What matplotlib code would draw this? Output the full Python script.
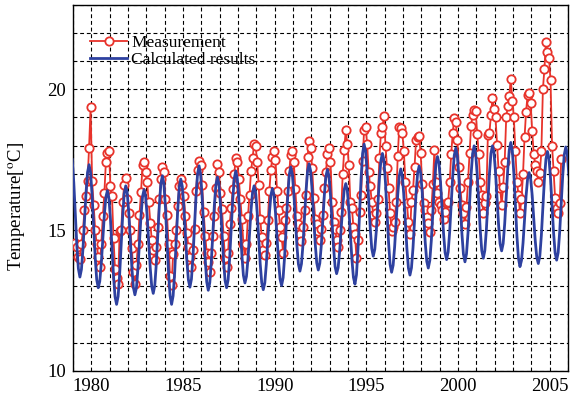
import numpy as np
import matplotlib
matplotlib.use("Agg")
import matplotlib.pyplot as plt
from matplotlib.ticker import MultipleLocator

# monthly mean temperature, measured (Jan 1979 - Aug 2005), one row per year
meas_start = 1979
measured = [
    14.50, 14.55, 14.40, 14.05, 13.98, 14.50, 15.00, 15.70, 16.20, 16.75, 17.93, 19.36,  # 1979
    16.73, 15.90, 15.00, 14.50, 14.05, 13.70, 14.50, 15.50, 16.30, 17.42, 17.75, 17.82,  # 1980
    16.55, 16.20, 14.70, 13.60, 13.30, 13.07, 14.95, 15.00, 16.00, 16.60, 16.85, 16.10,  # 1981
    15.60, 15.00, 14.35, 13.50, 13.10, 13.75, 14.50, 15.55, 16.35, 17.32, 17.40, 17.05,  # 1982
    16.70, 16.00, 15.25, 14.65, 14.30, 13.93, 14.40, 15.10, 16.10, 16.80, 17.25, 17.05,  # 1983
    16.10, 15.55, 14.50, 13.35, 13.05, 14.15, 14.50, 15.00, 15.85, 16.55, 16.80, 16.60,  # 1984
    16.20, 15.50, 14.90, 14.40, 14.05, 13.70, 14.30, 15.05, 16.40, 17.15, 17.45, 17.30,  # 1985
    16.60, 15.65, 14.80, 14.20, 13.85, 13.50, 14.20, 14.80, 15.50, 16.50, 17.35, 17.05,  # 1986
    16.30, 15.75, 14.80, 14.00, 13.70, 14.20, 15.20, 15.80, 16.45, 17.00, 17.55, 17.40,  # 1987
    16.80, 16.10, 15.40, 14.50, 14.00, 14.50, 15.50, 16.25, 17.10, 17.55, 18.05, 18.00,  # 1988
    17.40, 16.60, 15.40, 14.75, 14.30, 14.10, 14.55, 15.35, 16.40, 17.15, 17.60, 17.82,  # 1989
    17.50, 16.40, 15.70, 15.10, 14.75, 14.20, 15.35, 15.80, 16.40, 17.10, 17.65, 17.82,  # 1990
    17.40, 16.45, 15.50, 15.20, 14.85, 14.60, 15.10, 15.70, 16.25, 17.60, 18.15, 17.90,  # 1991
    17.20, 16.15, 15.40, 15.20, 14.95, 14.65, 15.05, 15.55, 16.50, 17.05, 17.70, 17.90,  # 1992
    17.40, 16.00, 15.30, 15.05, 14.65, 14.40, 15.00, 15.65, 17.00, 17.85, 18.57, 18.06,  # 1993
    17.30, 16.00, 15.80, 15.10, 14.85, 14.00, 14.65, 15.65, 16.25, 17.45, 18.57, 18.65,  # 1994
    18.06, 17.05, 16.55, 16.00, 15.55, 15.30, 15.60, 16.10, 17.55, 18.45, 18.65, 19.05,  # 1995
    18.00, 17.20, 16.50, 15.60, 14.95, 15.10, 15.30, 16.00, 17.64, 18.65, 18.62, 18.44,  # 1996
    17.82, 16.72, 15.95, 15.30, 14.85, 16.00, 16.42, 17.23, 18.20, 18.30, 18.35, 17.73,  # 1997
    16.64, 15.95, 15.70, 15.45, 15.24, 14.94, 15.71, 16.64, 17.86, 16.70, 16.30, 16.00,  # 1998
    15.90, 15.70, 15.40, 15.65, 15.95, 16.00, 16.70, 17.70, 18.45, 18.98, 18.85, 18.20,  # 1999
    17.23, 16.48, 15.90, 15.60, 15.20, 15.83, 16.72, 17.73, 18.70, 19.10, 19.28, 19.24,  # 2000
    18.42, 17.70, 16.72, 16.25, 15.60, 15.95, 16.20, 18.38, 18.45, 19.09, 19.69, 19.30,  # 2001
    19.00, 18.03, 17.11, 16.48, 15.89, 16.54, 17.43, 19.00, 19.40, 19.75, 20.38, 19.60,  # 2002
    19.00, 17.79, 16.72, 16.25, 15.62, 16.10, 16.99, 18.30, 19.21, 19.80, 19.88, 19.50,  # 2003
    18.50, 17.71, 17.30, 17.10, 16.72, 17.02, 17.79, 20.00, 20.72, 21.69, 21.31, 21.11,  # 2004
    20.32, 17.99, 17.11, 16.13, 15.77, 15.60, 15.95, 17.52,                              # 2005
]

# monthly calculated temperature (Dec 1978 - Jan 2006)
calc_start = 1978 + 11 / 12
calculated = [
    17.50,                                                                               # 1978
    16.68, 15.57, 14.45, 13.63, 13.33, 13.60, 14.33, 15.33, 16.32, 17.05, 17.32, 17.03,  # 1979
    16.23, 15.14, 14.04, 13.24, 12.95, 13.18, 13.81, 14.68, 15.54, 16.17, 16.40, 16.13,  # 1980
    15.39, 14.38, 13.37, 12.63, 12.36, 12.64, 13.41, 14.47, 15.52, 16.29, 16.57, 16.31,  # 1981
    15.60, 14.64, 13.67, 12.96, 12.70, 12.95, 13.64, 14.57, 15.51, 16.19, 16.44, 16.19,  # 1982
    15.52, 14.60, 13.67, 13.00, 12.75, 13.03, 13.80, 14.84, 15.89, 16.65, 16.93, 16.62,  # 1983
    15.79, 14.65, 13.50, 12.67, 12.36, 12.66, 13.47, 14.59, 15.70, 16.51, 16.81, 16.55,  # 1984
    15.85, 14.89, 13.93, 13.23, 12.97, 13.26, 14.05, 15.13, 16.20, 16.99, 17.28, 16.98,  # 1985
    16.18, 15.07, 13.97, 13.16, 12.86, 13.13, 13.87, 14.87, 15.88, 16.61, 16.88, 16.62,  # 1986
    15.90, 14.92, 13.93, 13.21, 12.95, 13.23, 13.99, 15.03, 16.06, 16.82, 17.10, 16.83,  # 1987
    16.11, 15.11, 14.12, 13.39, 13.12, 13.35, 13.98, 14.85, 15.71, 16.34, 16.57, 16.32,  # 1988
    15.65, 14.73, 13.80, 13.13, 12.88, 13.12, 13.78, 14.68, 15.58, 16.24, 16.48, 16.25,  # 1989
    15.62, 14.76, 13.89, 13.26, 13.03, 13.31, 14.08, 15.14, 16.19, 16.96, 17.24, 16.99,  # 1990
    16.32, 15.39, 14.47, 13.79, 13.54, 13.80, 14.49, 15.45, 16.40, 17.10, 17.35, 17.10,  # 1991
    16.41, 15.47, 14.52, 13.83, 13.58, 13.82, 14.47, 15.37, 16.26, 16.91, 17.15, 16.90,  # 1992
    16.23, 15.30, 14.38, 13.70, 13.45, 13.66, 14.25, 15.05, 15.85, 16.44, 16.65, 16.41,  # 1993
    15.76, 14.87, 13.97, 13.32, 13.08, 13.41, 14.32, 15.57, 16.81, 17.72, 18.05, 17.78,  # 1994
    17.05, 16.06, 15.07, 14.34, 14.07, 14.32, 14.98, 15.90, 16.81, 17.48, 17.72, 17.44,  # 1995
    16.67, 15.61, 14.56, 13.78, 13.50, 13.75, 14.42, 15.34, 16.25, 16.92, 17.17, 16.92,  # 1996
    16.23, 15.29, 14.34, 13.65, 13.40, 13.66, 14.37, 15.34, 16.30, 17.01, 17.27, 17.03,  # 1997
    16.37, 15.46, 14.56, 13.89, 13.65, 13.92, 14.64, 15.63, 16.62, 17.35, 17.61, 17.37,  # 1998
    16.70, 15.78, 14.87, 14.20, 13.95, 14.22, 14.94, 15.93, 16.92, 17.65, 17.91, 17.64,  # 1999
    16.90, 15.89, 14.88, 14.14, 13.87, 14.15, 14.90, 15.93, 16.96, 17.71, 17.99, 17.72,  # 2000
    16.99, 16.00, 15.00, 14.27, 14.00, 14.27, 15.00, 16.00, 16.99, 17.72, 17.99, 17.74,  # 2001
    17.06, 16.13, 15.19, 14.51, 14.26, 14.52, 15.22, 16.19, 17.15, 17.85, 18.11, 17.82,  # 2002
    17.01, 15.91, 14.80, 14.00, 13.70, 13.92, 14.54, 15.37, 16.21, 16.82, 17.04, 16.82,  # 2003
    16.23, 15.43, 14.62, 14.03, 13.81, 14.08, 14.81, 15.80, 16.80, 17.52, 17.79, 17.53,  # 2004
    16.83, 15.86, 14.90, 14.19, 13.93, 14.20, 14.94, 15.94, 16.95, 17.68, 17.95, 17.69,  # 2005
    16.96,                                                                               # 2006
]

x_ticks = [1980, 1985, 1990, 1995, 2000, 2005]
y_ticks = [10, 15, 20]

# mid-month time stamps in decimal years
t_meas = meas_start + (np.arange(len(measured)) + 0.5) / 12
t_calc = calc_start + (np.arange(len(calculated)) + 0.5) / 12

plt.rcParams["font.family"] = ["Liberation Serif", "DejaVu Serif"]
plt.rcParams["mathtext.fontset"] = "stix"

fig = plt.figure(figsize=(5.75, 4.0), dpi=100)
ax = fig.add_axes([0.127, 0.073, 0.861, 0.915])

ax.plot(t_meas, measured, color="#e8332b", lw=1.3, marker="o", ms=6.0,
        mfc="white", mec="#e8332b", mew=1.3, label="Measurement", zorder=3)
ax.plot(t_calc, calculated, color="#2e41a0", lw=2.0, label="Calculated results", zorder=4)

ax.set_xlim(1979, 2006)
ax.set_ylim(10, 23)
ax.set_xticks(x_ticks)
ax.set_yticks(y_ticks)
ax.xaxis.set_minor_locator(MultipleLocator(1))
ax.yaxis.set_minor_locator(MultipleLocator(1))
ax.grid(which="both", color="black", linestyle=(0, (3.5, 2.5)), linewidth=0.8)
ax.set_axisbelow(True)
ax.tick_params(which="both", direction="in", length=0, labelsize=13.5, pad=5)
for s in ax.spines.values():
    s.set_linewidth(1.0)

ax.set_ylabel(r"Temperature[$^{\mathrm{o}}$C]", fontsize=13.5)
ax.yaxis.set_label_coords(-0.09, 0.45)

ax.legend(loc="upper left", bbox_to_anchor=(0.035, 0.918), frameon=False,
          fontsize=12.5, handlelength=2.1, handletextpad=0.25, labelspacing=0.05,
          borderpad=0, borderaxespad=0)

fig.savefig("out.png", dpi=100)
